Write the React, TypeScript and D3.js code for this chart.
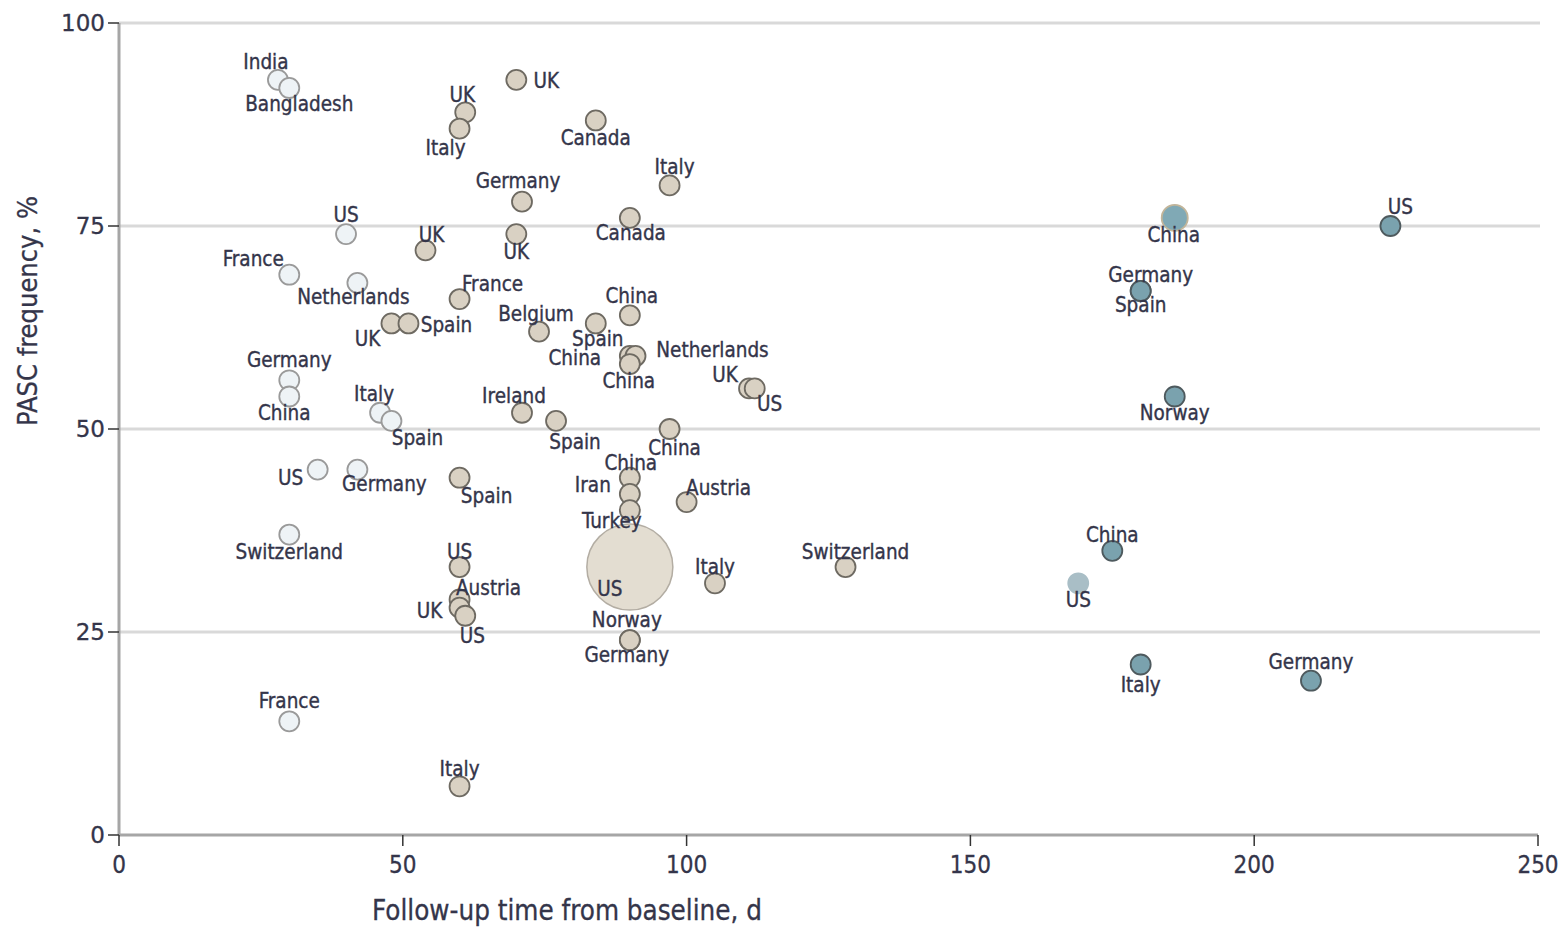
import React from 'react';
import * as d3 from 'd3';

// study points: country, follow-up (days), PASC frequency (%), group, relative study size
const countries = [
  // early follow-up (light)
  'India', 'Bangladesh', 'US', 'France', 'Netherlands', 'Germany', 'China', 'Italy', 'Spain',
  'US', 'Germany', 'Switzerland', 'France',
  // mid follow-up (tan)
  'UK', 'UK', 'Italy', 'Canada', 'Italy', 'Germany', 'Canada', 'UK', 'UK', 'France', 'UK', 'Spain',
  'Belgium', 'Spain', 'China', 'China', 'Netherlands', 'China', 'UK', 'US', 'Ireland', 'Spain',
  'China', 'China', 'Iran', 'Turkey', 'Austria', 'Spain', 'US', 'Austria', 'UK', 'US', 'US',
  'Norway', 'Germany', 'Italy', 'Switzerland', 'Italy',
  // late follow-up (teal)
  'China', 'US', 'Germany', 'Spain', 'Norway', 'China', 'US', 'Italy', 'Germany',
];
const followUp = [
  28, 30, 40, 30, 42, 30, 30, 46, 48, 35, 42, 30, 30,
  70, 61, 60, 84, 97, 71, 90, 70, 54, 60, 48, 51, 74, 84, 90, 90, 91, 90, 111, 112, 71, 77,
  97, 90, 90, 90, 100, 60, 60, 60, 60, 61, 90, 90, 90, 105, 128, 60,
  186, 224, 180, 180, 186, 175, 169, 180, 210,
];
const frequency = [
  93, 92, 74, 69, 68, 56, 54, 52, 51, 45, 45, 37, 14,
  93, 89, 87, 88, 80, 78, 76, 74, 72, 66, 63, 63, 62, 63, 64, 59, 59, 58, 55, 55, 52, 51,
  50, 44, 42, 40, 41, 44, 33, 29, 28, 27, 33, 24, 24, 31, 33, 6,
  76, 75, 67, 67, 54, 35, 31, 21, 19,
];
const group = [
  'a', 'a', 'a', 'a', 'a', 'a', 'a', 'a', 'a', 'a', 'a', 'a', 'a',
  'b', 'b', 'b', 'b', 'b', 'b', 'b', 'b', 'b', 'b', 'b', 'b', 'b', 'b', 'b', 'b', 'b', 'b', 'b', 'b', 'b', 'b',
  'b', 'b', 'b', 'b', 'b', 'b', 'b', 'b', 'b', 'b', 'big', 'b', 'b', 'b', 'b', 'b',
  'c2', 'c', 'c', 'c', 'c', 'c', 'c3', 'c', 'c',
];
const relSize = [
  1, 1, 1, 1, 1, 1, 1, 1, 1, 1, 1, 1, 1,
  1, 1, 1, 1, 1, 1, 1, 1, 1, 1, 1, 1, 1, 1, 1, 1, 1, 1, 1, 1, 1, 1,
  1, 1, 1, 1, 1, 1, 1, 1, 1, 1, 18.5, 1, 1, 1, 1, 1,
  1.7, 1, 1, 1, 1, 1, 1, 1, 1,
];

// label placement (px offset from point)
const labelOffset: [number, number][] = [
  [-12, -18], [10, 16], [0, -19], [-36, -16], [-4, 14], [0, -20], [-5, 16], [-6, -19], [26, 17],
  [-27, 8], [27, 14], [0, 17], [0, -20],
  [30, 1], [-3, -17], [-14, 19], [0, 17], [5, -19], [-4, -21], [1, 15], [0, 18], [6, -16], [33, -15],
  [-24, 15], [38, 1], [-3, -18], [2, 15], [2, -19], [-55, 2], [77, -6], [-1, 17], [-24, -14], [15, 15],
  [-8, -17], [19, 21], [5, 19], [1, -15], [-37, -9], [-18, 11], [32, -14], [27, 18], [0, -15],
  [29, -12], [-30, 3], [7, 20], [-20, 22], [-3, -20], [-3, 15], [0, -16], [10, -15], [0, -17],
  [-1, 17], [10, -19], [10, -16], [0, 14], [0, 16], [0, -16], [0, 17], [0, 20], [0, -19],
];

const xTicks = [0, 50, 100, 150, 200, 250];
const yTicks = [0, 25, 50, 75, 100];

const fills: Record<string, string> = {
  a: '#eef3f6', b: '#d9d1c3', big: '#e3ddd1', c: '#7aa2ae', c2: '#80a9b5', c3: '#a9bec6',
};
const strokes: Record<string, string> = {
  a: '#9a9a9a', b: '#6e6a62', big: '#b3ada3', c: '#4e5a5e', c2: '#c2b59a', c3: '#a9bec6',
};

const W = 1568;
const H = 927;
const left = 119;
const right = 1538;
const top = 23;
const bottom = 835;

const labelFont = '"DejaVu Sans Condensed", "Liberation Sans Narrow", "Roboto Condensed", sans-serif';
const textColor = '#34354a';

export default function App() {
  const x = d3.scaleLinear().domain([0, 250]).range([left, right]);
  const y = d3.scaleLinear().domain([0, 100]).range([bottom, top]);
  const r = d3.scaleSqrt().domain([0, 1]).range([0, 10]);

  const pts = countries.map((c, i) => ({
    c, i, x: x(followUp[i]), y: y(frequency[i]), g: group[i], r: r(relSize[i]),
  }));
  const ordered = [...pts].sort((a, b) => (a.g === 'big' ? -1 : 0) - (b.g === 'big' ? -1 : 0));

  return (
    <svg width={W} height={H} style={{ position: 'absolute', left: 0, top: 0, background: '#fff' }}>
      {yTicks.filter(t => t > 0).map(t => (
        <line key={'g' + t} x1={left} x2={right + 2} y1={y(t)} y2={y(t)} stroke="#d9d9d9" strokeWidth={3} />
      ))}
      <line x1={left} x2={left} y1={top} y2={bottom} stroke="#a6a6a6" strokeWidth={3} />
      <line x1={left} x2={right} y1={bottom} y2={bottom} stroke="#a6a6a6" strokeWidth={3} />
      {yTicks.map(t => (
        <g key={'y' + t}>
          <line x1={left - 11} x2={left} y1={y(t)} y2={y(t)} stroke="#333" strokeWidth={1.5} />
          <text x={left - 14} y={y(t)} dy="0.36em" textAnchor="end" fontFamily='"DejaVu Sans", Verdana, sans-serif'
            fontSize={23} fill={textColor} stroke={textColor} strokeWidth={0.3}>{t}</text>
        </g>
      ))}
      {xTicks.map(t => (
        <g key={'x' + t}>
          <line x1={x(t)} x2={x(t)} y1={bottom} y2={bottom + 11} stroke="#333" strokeWidth={1.5} />
          <text x={x(t)} y={bottom + 38} textAnchor="middle" fontFamily={labelFont} fontSize={24}
            fill={textColor} stroke={textColor} strokeWidth={0.3}>{t}</text>
        </g>
      ))}
      <text x={567} y={920} textAnchor="middle" fontFamily={labelFont} fontSize={27.5} fill={textColor}
        stroke={textColor} strokeWidth={0.3}>
        Follow-up time from baseline, d
      </text>
      <text transform={`translate(37,311) rotate(-90)`} textAnchor="middle" fontFamily={labelFont}
        fontSize={27} fill={textColor} stroke={textColor} strokeWidth={0.3}>PASC frequency, %</text>

      {ordered.map(p => (
        <circle key={'c' + p.i} cx={p.x} cy={p.y} r={p.r} fill={fills[p.g]} stroke={strokes[p.g]}
          strokeWidth={p.g === 'big' ? 1.5 : 1.8} />
      ))}
      {pts.map(p => (
        <text key={'t' + p.i} x={p.x + labelOffset[p.i][0]} y={p.y + labelOffset[p.i][1]} dy="0.35em"
          textAnchor="middle" fontFamily={labelFont} fontSize={20.5} fill={textColor}
          stroke={textColor} strokeWidth={0.35}>{p.c}</text>
      ))}
    </svg>
  );
}
